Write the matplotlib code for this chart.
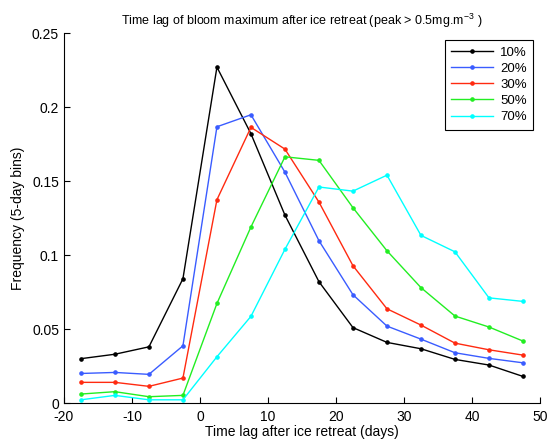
import matplotlib
matplotlib.use("Agg")
import matplotlib.pyplot as plt

plt.rcParams['font.family'] = ['Liberation Sans', 'DejaVu Sans']
plt.rcParams['mathtext.fontset'] = 'custom'
plt.rcParams['mathtext.rm'] = 'Liberation Sans'
plt.rcParams['mathtext.default'] = 'regular'
plt.rcParams['axes.unicode_minus'] = False

# bin centres (days)
lag = [-17.5, -12.5, -7.5, -2.5, 2.5, 7.5, 12.5, 17.5, 22.5, 27.5, 32.5, 37.5, 42.5, 47.5]

freq_10 = [0.030, 0.033, 0.038, 0.084, 0.227, 0.182, 0.127, 0.082, 0.051, 0.041, 0.0367, 0.0295, 0.0257, 0.018]
freq_20 = [0.020, 0.0207, 0.0194, 0.0387, 0.1867, 0.1948, 0.156, 0.1097, 0.0732, 0.052, 0.0432, 0.034, 0.0302, 0.0272]
freq_30 = [0.014, 0.014, 0.0113, 0.0169, 0.1374, 0.1863, 0.1716, 0.1358, 0.0928, 0.0637, 0.0527, 0.0405, 0.036, 0.0324]
freq_50 = [0.0061, 0.0077, 0.0043, 0.0052, 0.0673, 0.119, 0.1664, 0.164, 0.132, 0.1029, 0.078, 0.0588, 0.0514, 0.0419]
freq_70 = [0.0022, 0.0052, 0.0022, 0.0022, 0.0313, 0.0586, 0.1039, 0.146, 0.1432, 0.154, 0.1133, 0.1022, 0.0711, 0.0687]

labels = ['10%', '20%', '30%', '50%', '70%']
series = [freq_10, freq_20, freq_30, freq_50, freq_70]
colors = ['black', '#3a5cff', '#ff2a10', '#22ee22', '#00ffff']

fig = plt.figure(figsize=(5.51, 4.41), dpi=100)
ax = fig.add_axes([0.116, 0.086, 0.864, 0.839])

for vals, lab, col in zip(series, labels, colors):
    ax.plot(lag, vals, color=col, marker='o', markersize=2.3, linewidth=1.0, label=lab)

ax.set_xlim(-20, 50)
ax.set_ylim(0, 0.25)
ax.set_xticks([-20, -10, 0, 10, 20, 30, 40, 50])
ax.set_yticks([0, 0.05, 0.1, 0.15, 0.2, 0.25])
ax.set_yticklabels(['0', '0.05', '0.1', '0.15', '0.2', '0.25'])
ax.spines['top'].set_visible(False)
ax.spines['right'].set_visible(False)
ax.tick_params(direction='in', labelsize=10, length=4)
ax.tick_params(axis='x', pad=5)

ax.set_xlabel('Time lag after ice retreat (days)', fontsize=10, labelpad=1)
ax.set_ylabel('Frequency (5-day bins)', fontsize=10, labelpad=5)
ax.set_title('Time lag of bloom maximum after ice retreat (peak > 0.5mg.m$^{-3}$ )', fontsize=9)

leg = ax.legend(loc='upper right', fontsize=9.5, fancybox=False, edgecolor='black',
                framealpha=1, handlelength=3.2, handletextpad=0.5, borderaxespad=0.5,
                labelspacing=0.3, borderpad=0.5)
leg.get_frame().set_linewidth(0.8)

fig.savefig('out.png', dpi=100)
